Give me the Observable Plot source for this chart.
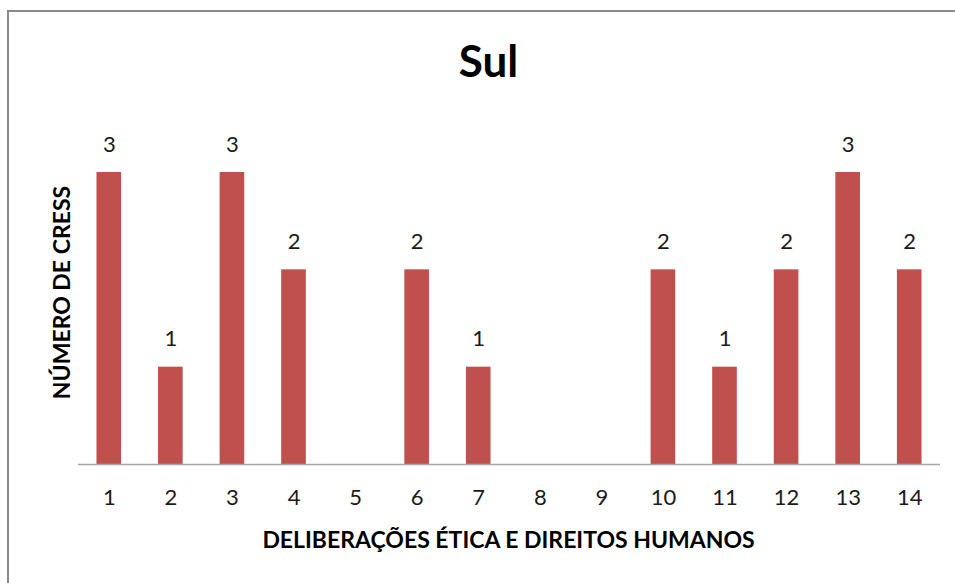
<!DOCTYPE html>
<html>
<head>
<meta charset="utf-8">
<script src="https://cdn.jsdelivr.net/npm/d3@7"></script>
<script src="https://cdn.jsdelivr.net/npm/@observablehq/plot@0.6"></script>
<style>
  html, body { margin: 0; padding: 0; background: #fff; }
  #wrap { position: relative; width: 955px; height: 583px; overflow: hidden; }
  #frame { position: absolute; left: 7px; top: 10px; width: 1000px; height: 1000px;
           border-left: 2px solid #8a8a8a; border-top: 2px solid #8a8a8a; }
  #chart { position: absolute; left: 0; top: 0; }
</style>
</head>
<body>
<div id="wrap"><div id="frame"></div><div id="chart"></div></div>
<script>
const categories = ["1","2","3","4","5","6","7","8","9","10","11","12","13","14"];
const values = [3, 1, 3, 2, 0, 2, 1, 0, 0, 2, 1, 2, 3, 2];
const title = "Sul";
const xTitle = "DELIBERAÇÕES ÉTICA E DIREITOS HUMANOS";
const yTitle = "NÚMERO DE CRESS";

const data = categories.map((c, i) => ({ cat: c, value: values[i] }));
const font = "Lato, Calibri, 'Open Sans', sans-serif";

const chart = Plot.plot({
  width: 955,
  height: 583,
  marginLeft: 78,
  marginRight: 15,
  marginTop: 172,
  marginBottom: 119,
  style: { fontFamily: font, background: "transparent" },
  x: { domain: categories, paddingInner: 0.6, paddingOuter: 0.3, round: false, label: null },
  y: { domain: [0, 3], axis: null },
  marks: [
    Plot.barY(data, { x: "cat", y: "value", fill: "#C0504D" }),
    Plot.ruleY([0], { stroke: "#a6a6a6", strokeWidth: 1.3 }),
    Plot.axisX({ tickSize: 0, tickPadding: 25, fontSize: 22, fill: "#1a1a1a", label: null }),
    Plot.text(data.filter(d => d.value > 0), {
      x: "cat", y: "value", text: d => String(d.value),
      dy: -28, fontSize: 22, fill: "#1a1a1a", lineAnchor: "middle"
    }),
    Plot.text([title], { frameAnchor: "top", dx: -21, dy: -110, fontSize: 44, fontWeight: "bold", fill: "#000", lineAnchor: "middle", textAnchor: "middle" }),
    Plot.text([xTitle], { frameAnchor: "bottom", dx: -1, dy: 76, fontSize: 23, fontWeight: "bold", fill: "#000", lineAnchor: "middle", textAnchor: "middle" }),
    Plot.text([yTitle], { frameAnchor: "left", dx: -16, dy: -26, rotate: -90, fontSize: 23, fontWeight: "bold", fill: "#000", lineAnchor: "middle", textAnchor: "middle" })
  ]
});
document.getElementById("chart").appendChild(chart);
</script>
</body>
</html>
